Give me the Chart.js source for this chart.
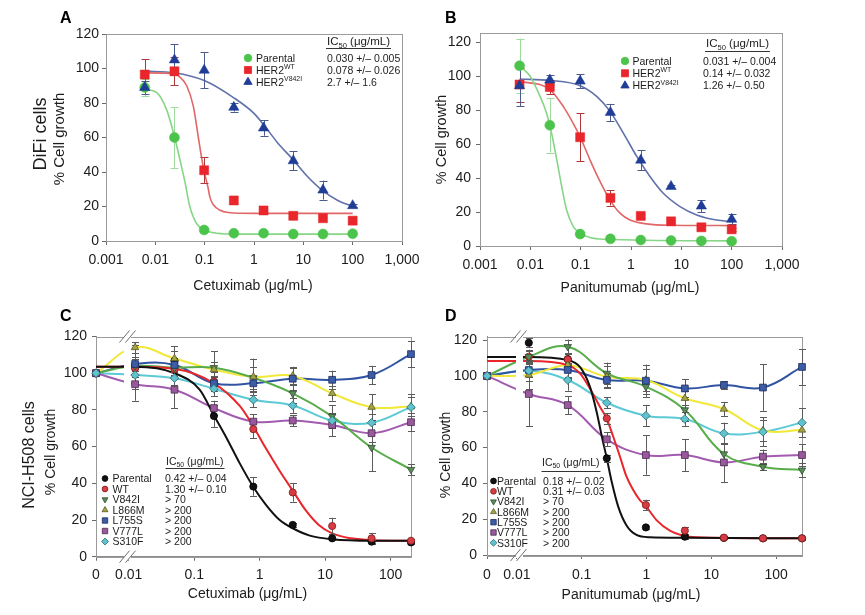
<!DOCTYPE html>
<html><head><meta charset="utf-8">
<script src="https://cdn.jsdelivr.net/npm/chart.js"></script>
<style>
html,body{margin:0;padding:0;background:#fff;}
#wrap{position:relative;width:865px;height:615px;overflow:hidden;background:#fff;}
canvas{position:absolute;left:0;top:0;}
</style></head><body>
<div id="wrap">
<canvas id="cA" width="865" height="615"></canvas>
<canvas id="cB" width="865" height="615"></canvas>
<canvas id="cC" width="865" height="615"></canvas>
<canvas id="cD" width="865" height="615"></canvas>
</div>
<script>
// ================= DATA =================
const yTicks = [0, 20, 40, 60, 80, 100, 120];

// ---- Panels A & B (4-fold dilutions) ----
const concAB = [0.0061, 0.0244, 0.0977, 0.39, 1.5625, 6.25, 25, 100];
const xTicksAB = [0.001, 0.01, 0.1, 1, 10, 100, 1000];
const xLabelsAB = ['0.001', '0.01', '0.1', '1', '10', '100', '1,000'];
const namesAB = ['Parental', 'HER2', 'HER2'];
const supsAB = ['', 'WT', 'V842I'];

// Panel A – Cetuximab, DiFi
const A_parental = [89, 60, 6.4, 4.5, 4.5, 4, 4, 4.2];
const A_parentalErr = [5, 17.5, 1, 0, 0, 0, 0, 0];
const A_wt = [96.5, 98.4, 41, 23.5, 17.7, 14.6, 13.2, 11.8];
const A_wtErr = [9, 8, 7.5, 0, 0, 0, 0, 0];
const A_v842i = [89, 105, 99, 77.5, 65.5, 46.5, 29.5, 20.5];
const A_v842iErr = [4, 9, 10.5, 2.5, 4.5, 5.5, 5.5, 1];
const A_fitParental = [[0.0061,88],[0.0107,86],[0.017,76],[0.0232,63],[0.0316,47],[0.04,34],[0.05,20],[0.069,10],[0.1,6.4],[0.176,4.5],[0.5,4],[100,4]];
const A_fitWT = [[0.0061,97.5],[0.0244,97],[0.0316,95],[0.0433,90],[0.059,78],[0.0745,60],[0.087,48],[0.098,40],[0.115,32],[0.129,25],[0.15,21],[0.2,18],[0.3,16.5],[1,16],[100,16]];
const A_fitV842I = [[0.0061,98.5],[0.0244,97.5],[0.098,93],[0.39,83],[1,74],[1.56,67.5],[3,57],[6.25,47],[12,37.5],[25,29],[50,23.5],[100,20]];
const A_ic50 = ['0.030 +/\u2013 0.005', '0.078 +/\u2013 0.026', '2.7 +/\u2013 1.6'];

// Panel B – Panitumumab, DiFi
const B_parental = [106, 71, 7, 4.2, 3.5, 3.2, 3, 2.8];
const B_parentalErr = [16, 16, 1, 0, 0, 0, 0, 0];
const B_wt = [95, 93.5, 64, 28.3, 17.7, 14.5, 11, 9.8];
const B_wtErr = [10, 4, 14, 4.5, 1, 1, 1, 1];
const B_v842i = [94.3, 97.6, 97, 78.6, 50.5, 35, 23.5, 15.7];
const B_v842iErr = [12, 3, 4, 5, 6, 1, 3.5, 3];
const B_fitParental = [[0.0061,106],[0.00984,100],[0.0156,88],[0.0211,78],[0.0266,66],[0.0334,51],[0.042,35],[0.0527,21],[0.0715,11.4],[0.097,7.5],[0.153,5],[0.282,4],[100,3]];
const B_fitWT = [[0.0061,97],[0.0244,92],[0.0453,82],[0.0715,72],[0.1,63.5],[0.153,50.7],[0.242,38],[0.383,27],[0.604,19.3],[0.955,15.3],[2.05,13],[5.96,12.2],[100,12]];
const B_fitV842I = [[0.0061,98.2],[0.0244,97.4],[0.098,94.3],[0.208,88],[0.383,79.2],[0.705,66.4],[1.3,52.7],[2.38,40.9],[4.38,31],[9.41,23.2],[20.2,18.3],[50.2,15.3],[100,14.3]];
const B_ic50 = ['0.031 +/\u2013 0.004', '0.14 +/\u2013 0.032', '1.26 +/\u2013 0.50'];

// ---- Panels C & D (NCI-H508) ----
const namesCD = ['Parental', 'WT', 'V842I', 'L866M', 'L755S', 'V777L', 'S310F'];
const xTicksCD = [0, 0.01, 0.1, 1, 10, 100];
const xLabelsCD = ['0', '0.01', '0.1', '1', '10', '100'];

// Panel C – Cetuximab
const concC = [0, 0.0125, 0.05, 0.2, 0.8, 3.2, 12.8, 51.2, 204.8];
const zeroC = 0.003162;   // axis position that stands for 0 µg/mL
const C_parental = [100, 103.3, 106.7, 76.7, 38.2, 17.3, 10, 8.2, 7.8];
const C_parentalErr = [0, 12, 8, 6, 5, 1, 1, 1, 1];
const C_wt = [100, 102.7, 102.2, 95.5, 69.5, 35, 16.7, 10, 8.7];
const C_wtErr = [0, 5, 4, 5, 5, 5, 4.5, 3, 1];
const C_v842i = [100, 104, 103, 103, 97.5, 89, 76.5, 59.5, 47.5];
const C_v842iErr = [0, 5, 4, 9, 6, 5, 6, 13, 3];
const C_l866m = [100, 114, 108, 102, 98, 98.5, 89, 81.5, 81.8];
const C_l866mErr = [0, 3, 4, 4, 10, 5, 4, 7, 5];
const C_l755s = [100, 105, 104.5, 94.5, 94.5, 97, 96.4, 99, 110.4];
const C_l755sErr = [0, 4, 4, 4, 4, 6, 5, 5, 7];
const C_v777l = [100, 94, 91, 81, 73.6, 74.2, 71.8, 67.3, 73.3];
const C_v777lErr = [0, 9, 10, 4, 4, 3, 6, 5, 5];
const C_s310f = [100, 99, 97.3, 91.5, 85.5, 82.4, 74.2, 73, 81.5];
const C_s310fErr = [0, 5, 4, 4, 4, 4, 4, 5, 7];
const C_fitParental = [[0,103.5],[0.0125,103.5],[0.05,100],[0.121,91],[0.2,77],[0.309,65],[0.494,51],[0.8,38],[1.265,28],[2.02,20],[3.2,15.5],[5.83,11.5],[12.8,9.5],[51.2,8.7],[204.8,8.7]];
const C_fitWT = [[0,103.5],[0.0125,103.5],[0.05,102.4],[0.2,94.5],[0.5,82],[0.8,71],[1.2,60],[2,47],[3.2,36],[5,25.5],[8,17.3],[12.8,12.7],[25,10],[51.2,9],[204.8,8.7]];
const C_ic50 = ['0.42 +/\u2013 0.04', '1.30 +/\u2013 0.10', '> 70', '> 200', '> 200', '> 200', '> 200'];

// Panel D – Panitumumab
const concD = [0, 0.0153, 0.061, 0.244, 0.977, 3.9, 15.6, 62.5, 250];
const zeroD = 0.003467;   // axis position that stands for 0 µg/mL
const D_parental = [100, 118.5, 109.4, 54, 15.4, 10.2, 9.5, 9.3, 9.3];
const D_parentalErr = [0, 2.5, 3, 2, 1, 1, 0.5, 0.5, 0.5];
const D_wt = [100, 110.7, 109.2, 76.3, 27.9, 13.6, 9.7, 9.3, 9.3];
const D_wtErr = [0, 3, 3, 3, 3, 2, 1, 1, 1];
const D_v842i = [100, 110.7, 116.3, 101.4, 94, 81, 56.4, 49.3, 47.4];
const D_v842iErr = [0, 4, 4, 6, 4, 6, 6, 2, 4];
const D_l866m = [100, 100.5, 106, 99.5, 97.7, 87.5, 81.5, 69.5, 69.8];
const D_l866mErr = [0, 8, 7, 6, 6, 4, 4, 6, 4];
const D_l755s = [100, 103.3, 103.3, 97.7, 97.3, 93, 94.9, 93.5, 105];
const D_l755sErr = [0, 4, 4, 4, 9, 5, 2, 13, 10];
const D_v777l = [100, 89.9, 83.7, 64.6, 55.8, 55.8, 51.7, 54.9, 55.8];
const D_v777lErr = [0, 18, 5, 4, 11, 9, 11, 4, 6];
const D_s310f = [100, 102.9, 97.7, 85, 77.8, 75.9, 67.9, 68.8, 73.9];
const D_s310fErr = [0, 6, 6, 3, 6, 4, 6, 8, 8];
const D_fitParental = [[0,110.5],[0.0153,110.5],[0.061,108.8],[0.094,105],[0.134,94],[0.17,80],[0.205,66],[0.244,54],[0.29,41],[0.366,27],[0.492,16.5],[0.7,11.2],[1.125,9.9],[3.9,9.6],[250,9.3]];
const D_fitWT = [[0,108.3],[0.0153,108.3],[0.061,106],[0.094,101.4],[0.134,93],[0.191,82.8],[0.244,76],[0.307,66],[0.389,55],[0.492,43.7],[0.624,36.3],[0.789,30.7],[0.943,28],[1.426,19.5],[2.29,13.6],[3.66,10.8],[5.88,9.9],[250,9.3]];
const D_ic50 = ['0.18 +/\u2013 0.02', '0.31 +/\u2013 0.03', '> 70', '> 200', '> 200', '> 200', '> 200'];

// ================= STYLES =================
const FONT = '"Liberation Sans", Arial, Helvetica, sans-serif';
const TXT = '#1c1c1c';
const stylesAB = [
  { marker: '#4cc44c', line: '#86d686', err: '#9ddc9d', style: 'circle', r: 5, lr: 3.8 },
  { marker: '#e8262b', line: '#e26767', err: '#b03838', style: 'rect', r: 6.4, lr: 5 },
  { marker: '#1f3c96', line: '#6071ab', err: '#4b5b8c', style: 'triangle', r: 6, lr: 4.8 }
];
const stylesCD = [
  { line: '#111111', marker: '#111111', border: '#000000', style: 'circle', r: 3.6, rot: 0 },
  { line: '#e8262b', marker: '#d83c42', border: '#7a1d1d', style: 'circle', r: 3.6, rot: 0 },
  { line: '#58ad4a', marker: '#5b8b5b', border: '#2f4f2f', style: 'triangle', r: 4.3, rot: 180 },
  { line: '#f1e83a', marker: '#a3a347', border: '#5a5a20', style: 'triangle', r: 4.3, rot: 0 },
  { line: '#3053a3', marker: '#3c5ca8', border: '#1c2c5c', style: 'rect', r: 4.8, rot: 0 },
  { line: '#a35bb0', marker: '#995a9d', border: '#4a2a4e', style: 'rect', r: 4.8, rot: 0 },
  { line: '#5ccad6', marker: '#5fc3cf', border: '#2a6a70', style: 'rectRot', r: 4.3, rot: 0 }
];

// ================= HELPERS =================
function txt(ctx, s, x, y, size, o = {}) {
  ctx.save();
  ctx.font = (o.bold ? 'bold ' : '') + size + 'px ' + FONT;
  ctx.fillStyle = o.color || TXT;
  ctx.textAlign = o.align || 'left';
  ctx.textBaseline = 'alphabetic';
  if (o.rot) { ctx.translate(x, y); ctx.rotate(-Math.PI / 2); ctx.fillText(s, 0, 0); }
  else ctx.fillText(s, x, y);
  ctx.restore();
}
function rich(ctx, parts, x, y, size) {
  ctx.save(); ctx.fillStyle = TXT; ctx.textBaseline = 'alphabetic'; ctx.textAlign = 'left';
  let cx = x;
  for (const [t, k] of parts) {
    if (!t) continue;
    const sz = k === 'n' ? size : size * 0.66;
    const dy = k === 'sub' ? size * 0.22 : (k === 'sup' ? -size * 0.45 : 0);
    ctx.font = sz + 'px ' + FONT;
    ctx.fillText(t, cx, y + dy);
    cx += ctx.measureText(t).width;
  }
  ctx.restore();
  return cx;
}
function drawMarker(ctx, style, x, y, r, fill, stroke, rot) {
  ctx.save(); ctx.fillStyle = fill; ctx.strokeStyle = stroke || fill; ctx.lineWidth = 0.8;
  ctx.beginPath();
  if (style === 'circle') ctx.arc(x, y, r, 0, Math.PI * 2);
  else if (style === 'rect') { const s = r * Math.SQRT1_2; ctx.rect(x - s, y - s, 2 * s, 2 * s); }
  else if (style === 'rectRot') { ctx.moveTo(x, y - r); ctx.lineTo(x + r, y); ctx.lineTo(x, y + r); ctx.lineTo(x - r, y); ctx.closePath(); }
  else if (style === 'triangle') {
    let a = (rot || 0) * Math.PI / 180;
    ctx.moveTo(x + Math.sin(a) * r, y - Math.cos(a) * r);
    a += 2 * Math.PI / 3; ctx.lineTo(x + Math.sin(a) * r, y - Math.cos(a) * r);
    a += 2 * Math.PI / 3; ctx.lineTo(x + Math.sin(a) * r, y - Math.cos(a) * r);
    ctx.closePath();
  }
  ctx.fill(); if (stroke) ctx.stroke();
  ctx.restore();
}
function xScale(min, max, ticks, labels, pad) {
  return {
    type: 'logarithmic', min, max, bounds: 'data',
    afterBuildTicks: (s) => { s.ticks = ticks.map(v => ({ value: v })); },
    ticks: { autoSkip: false, maxRotation: 0, minRotation: 0, padding: pad, color: TXT,
      font: { family: FONT, size: 14 }, callback: (v, i) => labels[i] },
    grid: { display: true, drawOnChartArea: false, drawTicks: true, tickLength: 4, color: '#6a6a6a' },
    border: { display: true, color: '#8c8c8c' },
    afterFit: (s) => { s.height = 30; }
  };
}
function yScale(max, pad) {
  return {
    type: 'linear', min: 0, max, bounds: 'data',
    afterBuildTicks: (s) => { s.ticks = yTicks.map(v => ({ value: v })); },
    ticks: { padding: pad, color: TXT, font: { family: FONT, size: 14 }, callback: (v) => String(v) },
    grid: { display: true, drawOnChartArea: false, drawTicks: true, tickLength: 4, color: '#6a6a6a' },
    border: { display: true, color: '#8c8c8c' },
    afterFit: (s) => { s.width = 45; }
  };
}
function drawErrors(chart) {
  const ctx = chart.ctx, ys = chart.scales.y;
  chart.data.datasets.forEach((ds, i) => {
    if (!ds.errs) return;
    const meta = chart.getDatasetMeta(i);
    ctx.save(); ctx.strokeStyle = ds.errColor; ctx.lineWidth = 1;
    meta.data.forEach((pt, j) => {
      const e = ds.errs[j]; if (!e) return;
      const v = ds.data[j].y;
      const yt = ys.getPixelForValue(v + e), yb = ys.getPixelForValue(v - e);
      const x = Math.round(pt.x) + 0.5, cw = ds.capW;
      ctx.beginPath();
      ctx.moveTo(x, yt); ctx.lineTo(x, yb);
      ctx.moveTo(x - cw, Math.round(yt) + 0.5); ctx.lineTo(x + cw, Math.round(yt) + 0.5);
      ctx.moveTo(x - cw, Math.round(yb) + 0.5); ctx.lineTo(x + cw, Math.round(yb) + 0.5);
      ctx.stroke();
    });
    ctx.restore();
  });
}
function drawBreak(chart, g) {
  const ctx = chart.ctx, a = chart.chartArea;
  ctx.save();
  ctx.fillStyle = '#ffffff';
  ctx.fillRect(g.x0, a.top - 3, g.x1 - g.x0, a.bottom - a.top + 6);
  ctx.strokeStyle = '#6e6e6e'; ctx.lineWidth = 1;
  ctx.beginPath();
  for (const y of [a.top, a.bottom]) for (const dx of [-3, 3]) {
    ctx.moveTo(g.cx + dx - 5, y + 6); ctx.lineTo(g.cx + dx + 5, y - 6);
  }
  ctx.stroke();
  ctx.restore();
}
function panelPlugin(p) {
  return {
    id: 'panel' + p.key,
    beforeDatasetsDraw(chart) {
      const a = chart.chartArea, ctx = chart.ctx;
      ctx.save(); ctx.strokeStyle = '#9a9a9a'; ctx.lineWidth = 1;
      ctx.strokeRect(Math.round(a.left) + 0.5, Math.round(a.top) + 0.5, Math.round(a.right - a.left), Math.round(a.bottom - a.top));
      ctx.restore();
      chart.$markDone = false;
    },
    beforeDatasetDraw(chart, args) {
      const ds = chart.data.datasets[args.index];
      if (!ds.isMarker || chart.$markDone) return;
      chart.$markDone = true;
      if (p.gap) drawBreak(chart, p.gap);
      drawErrors(chart);
    },
    afterDraw(chart) { p.texts(chart.ctx); }
  };
}
function baseOptions(pad, xs, ys) {
  return {
    responsive: false, animation: false, devicePixelRatio: 1, events: [],
    layout: { padding: pad },
    plugins: { legend: { display: false }, tooltip: { enabled: false } },
    scales: { x: xs, y: ys }
  };
}

// ---------- datasets A/B ----------
function abDatasets(vals, errs, fits) {
  const ds = [];
  fits.forEach((f, k) => ds.push({
    data: f.map(([x, y]) => ({ x, y })), showLine: true, borderColor: stylesAB[k].line, borderWidth: 1.6,
    pointRadius: 0, cubicInterpolationMode: 'monotone', fill: false, order: 10 + k, clip: false
  }));
  vals.forEach((v, k) => ds.push({
    data: concAB.map((c, i) => ({ x: c, y: v[i] })), showLine: false,
    pointStyle: stylesAB[k].style, pointRadius: stylesAB[k].r,
    pointBackgroundColor: stylesAB[k].marker, pointBorderColor: stylesAB[k].marker, pointBorderWidth: 0.5,
    isMarker: true, errs: errs[k], errColor: stylesAB[k].err, capW: 4, order: 3 - k, clip: false
  }));
  return ds;
}
// ---------- datasets C/D ----------
function cdDatasets(conc, zero, vals, errs, fits) {
  const X = (c) => (c === 0 ? zero : c);
  const ds = [];
  vals.forEach((v, k) => {
    const st = stylesCD[k];
    const lineData = k < 2 ? fits[k].map(([x, y]) => ({ x: X(x), y })) : conc.map((c, i) => ({ x: X(c), y: v[i] }));
    ds.push({
      data: lineData, showLine: true, borderColor: st.line, borderWidth: 2, pointRadius: 0, fill: false,
      tension: k < 2 ? 0 : 0.4, cubicInterpolationMode: k < 2 ? 'monotone' : 'default',
      order: k < 2 ? 20 + k : 30 + k, clip: false
    });
    ds.push({
      data: conc.map((c, i) => ({ x: X(c), y: v[i] })), showLine: false,
      pointStyle: st.style, pointRotation: st.rot, pointRadius: st.r,
      pointBackgroundColor: st.marker, pointBorderColor: st.border, pointBorderWidth: 0.8,
      isMarker: true, errs: errs[k], errColor: '#5b5b5b', capW: 3.5, order: 10 - k, clip: false
    });
  });
  return ds;
}

// ================= PANEL A =================
new Chart(document.getElementById('cA'), {
  type: 'line',
  data: { datasets: abDatasets([A_parental, A_wt, A_v842i], [A_parentalErr, A_wtErr, A_v842iErr], [A_fitParental, A_fitWT, A_fitV842I]) },
  options: baseOptions({ left: 61, right: 463, top: 34, bottom: 344 }, xScale(0.001, 1000, xTicksAB, xLabelsAB, 6.5), yScale(120, 3)),
  plugins: [panelPlugin({ key: 'A', texts: (ctx) => {
    txt(ctx, 'A', 60, 23, 16, { bold: true, color: '#000' });
    txt(ctx, 'DiFi cells', 46, 134, 18, { rot: true, align: 'center' });
    txt(ctx, '% Cell growth', 63.5, 139, 15, { rot: true, align: 'center' });
    txt(ctx, 'Cetuximab (\u03bcg/mL)', 253, 290, 14, { align: 'center' });
    const rows = [58, 70, 82];
    for (let i = 0; i < 3; i++) {
      const st = stylesAB[i];
      drawMarker(ctx, st.style, 248, rows[i], st.lr, st.marker, st.marker, 0);
      rich(ctx, [[namesAB[i], 'n'], [supsAB[i], 'sup']], 256, rows[i] + 3.8, 10.5);
      txt(ctx, A_ic50[i], 327, rows[i] + 3.8, 10.5);
    }
    const endX = rich(ctx, [['IC', 'n'], ['50', 'sub'], [' (\u03bcg/mL)', 'n']], 327, 45, 11.5);
    ctx.save(); ctx.strokeStyle = '#333'; ctx.lineWidth = 1; ctx.beginPath();
    ctx.moveTo(326, 48.5); ctx.lineTo(endX + 1, 48.5); ctx.stroke(); ctx.restore();
  } })]
});

// ================= PANEL B =================
new Chart(document.getElementById('cB'), {
  type: 'line',
  data: { datasets: abDatasets([B_parental, B_wt, B_v842i], [B_parentalErr, B_wtErr, B_v842iErr], [B_fitParental, B_fitWT, B_fitV842I]) },
  options: baseOptions({ left: 435, right: 83, top: 33, bottom: 339 }, xScale(0.001, 1000, xTicksAB, xLabelsAB, 6.5), yScale(125.3, 5)),
  plugins: [panelPlugin({ key: 'B', texts: (ctx) => {
    txt(ctx, 'B', 445, 23, 16, { bold: true, color: '#000' });
    txt(ctx, '% Cell growth', 446, 139.5, 14.5, { rot: true, align: 'center' });
    txt(ctx, 'Panitumumab (\u03bcg/mL)', 630, 292, 14, { align: 'center' });
    const rows = [61, 73.3, 85.6];
    for (let i = 0; i < 3; i++) {
      const st = stylesAB[i];
      drawMarker(ctx, st.style, 625, rows[i], st.lr, st.marker, st.marker, 0);
      rich(ctx, [[namesAB[i], 'n'], [supsAB[i], 'sup']], 632.5, rows[i] + 3.8, 10.5);
      txt(ctx, B_ic50[i], 703, rows[i] + 3.8, 10.5);
    }
    const endX = rich(ctx, [['IC', 'n'], ['50', 'sub'], [' (\u03bcg/mL)', 'n']], 706, 47, 11.5);
    ctx.save(); ctx.strokeStyle = '#333'; ctx.lineWidth = 1; ctx.beginPath();
    ctx.moveTo(705, 51.5); ctx.lineTo(endX + 1, 51.5); ctx.stroke(); ctx.restore();
  } })]
});

// ---------- legend for C/D ----------
function cdLegend(ctx, mx, tx, vx, y0, step, ic, hx, hy, uy) {
  for (let i = 0; i < 7; i++) {
    const st = stylesCD[i], y = y0 + i * step;
    drawMarker(ctx, st.style, mx, y, st.r * 0.8, st.marker, st.border, st.rot);
    txt(ctx, namesCD[i], tx, y + 3.8, 10.5);
    txt(ctx, ic[i], vx, y + 3.8, 10.5);
  }
  const endX = rich(ctx, [['IC', 'n'], ['50', 'sub'], [' (\u03bcg/mL)', 'n']], hx, hy, 10.5);
  ctx.save(); ctx.strokeStyle = '#333'; ctx.lineWidth = 1; ctx.beginPath();
  ctx.moveTo(hx - 0.5, uy); ctx.lineTo(endX + 1, uy); ctx.stroke(); ctx.restore();
}

// ================= PANEL C =================
new Chart(document.getElementById('cC'), {
  type: 'line',
  data: { datasets: cdDatasets(concC, zeroC,
    [C_parental, C_wt, C_v842i, C_l866m, C_l755s, C_v777l, C_s310f],
    [C_parentalErr, C_wtErr, C_v842iErr, C_l866mErr, C_l755sErr, C_v777lErr, C_s310fErr],
    [C_fitParental, C_fitWT]) },
  options: baseOptions({ left: 51, right: 454, top: 336.5, bottom: 28.3 },
    xScale(zeroC, 204.8, xTicksCD.map(v => (v === 0 ? zeroC : v)), xLabelsCD, 6), yScale(120, 5)),
  plugins: [panelPlugin({ key: 'C', gap: { x0: 124, x1: 131, cx: 127.5 }, texts: (ctx) => {
    txt(ctx, 'C', 60, 321, 16, { bold: true, color: '#000' });
    txt(ctx, 'NCI-H508 cells', 34, 455, 16, { rot: true, align: 'center' });
    txt(ctx, '% Cell growth', 55, 452, 14, { rot: true, align: 'center' });
    txt(ctx, 'Cetuximab (\u03bcg/mL)', 247.5, 598, 14, { align: 'center' });
    cdLegend(ctx, 105, 112.5, 165, 478.5, 10.5, C_ic50, 166, 464.5, 468.5);
  } })]
});

// ================= PANEL D =================
new Chart(document.getElementById('cD'), {
  type: 'line',
  data: { datasets: cdDatasets(concD, zeroD,
    [D_parental, D_wt, D_v842i, D_l866m, D_l755s, D_v777l, D_s310f],
    [D_parentalErr, D_wtErr, D_v842iErr, D_l866mErr, D_l755sErr, D_v777lErr, D_s310fErr],
    [D_fitParental, D_fitWT]) },
  options: baseOptions({ left: 442, right: 63, top: 336.5, bottom: 30 },
    xScale(zeroD, 250, xTicksCD.map(v => (v === 0 ? zeroD : v)), xLabelsCD, 7.5), yScale(122, 6)),
  plugins: [panelPlugin({ key: 'D', gap: { x0: 516, x1: 523, cx: 518.5 }, texts: (ctx) => {
    txt(ctx, 'D', 445, 321, 16, { bold: true, color: '#000' });
    txt(ctx, '% Cell growth', 450, 455, 14, { rot: true, align: 'center' });
    txt(ctx, 'Panitumumab (\u03bcg/mL)', 631, 599, 14, { align: 'center' });
    cdLegend(ctx, 493.5, 497, 543, 481, 10.3, D_ic50, 542, 466, 471.5);
  } })]
});
</script>
</body></html>
